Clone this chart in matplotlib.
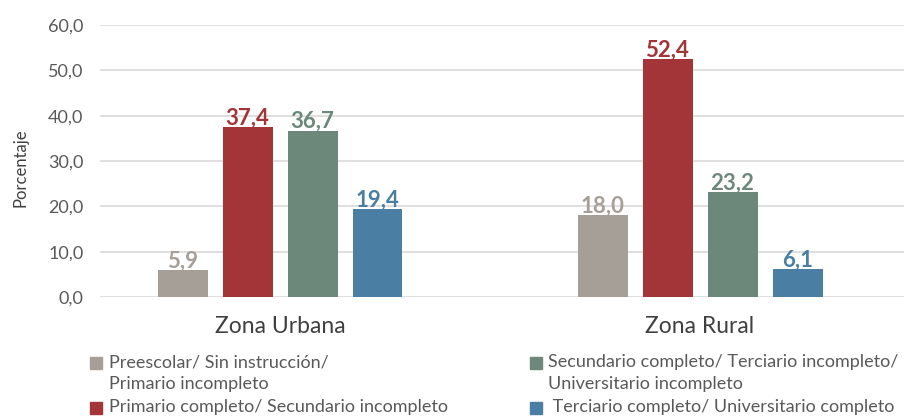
import numpy as np
import matplotlib.pyplot as plt
from matplotlib.patches import Rectangle

plt.rcParams['font.family'] = ['Lato', 'DejaVu Sans']

# Datos
zonas = ['Zona Urbana', 'Zona Rural']
niveles = ['Preescolar/ Sin instrucción/\nPrimario incompleto',
           'Primario completo/ Secundario incompleto',
           'Secundario completo/ Terciario incompleto/\nUniversitario incompleto',
           ' Terciario completo/ Universitario completo']
valores = [[5.9, 18.0],
           [37.4, 52.4],
           [36.7, 23.2],
           [19.4, 6.1]]
colores = ['#A59F98', '#A33438', '#6B887B', '#4A7FA3']

fig = plt.figure(figsize=(9.14, 4.16), dpi=100)
ax = fig.add_axes([100 / 914, 119 / 416, 804 / 914, 272 / 416])

x = np.arange(len(zonas))
paso = 65 / 420
ancho = 50 / 420
for i, (vals, col) in enumerate(zip(valores, colores)):
    pos = x + (i - 1.5) * paso
    ax.bar(pos, vals, width=ancho, color=col, zorder=3)
    for p, v in zip(pos, vals):
        ax.text(p, v + 0.55, f'{v:.1f}'.replace('.', ','), ha='center', va='baseline',
                fontsize=16, fontweight='bold', color=col, zorder=4)

ax.set_xlim(-180 / 420, 624 / 420)
ax.set_ylim(0, 60)
ax.set_yticks(np.arange(0, 61, 10))
ax.set_yticklabels([f'{t:.1f}'.replace('.', ',') for t in np.arange(0, 61, 10)])
ax.set_xticks(x)
ax.set_xticklabels(zonas, fontsize=16.5, color='#404040')
ax.tick_params(axis='y', length=0, labelsize=13, labelcolor='#595959', pad=12)
ax.tick_params(axis='x', length=0, pad=14)
ax.grid(axis='y', color='#D9D9D9', linewidth=1.2, zorder=0)
for s in ax.spines.values():
    s.set_visible(False)

fig.text(20 / 914, 1 - 168 / 416, 'Porcentaje', rotation=90, ha='center', va='center',
         fontsize=12, color='#404040')

# Leyenda manual
ley = [(90, 109, 367, 0), (90, 109, 412, 1), (530, 548, 367, 2), (530, 548, 412, 3)]
for sx, tx, ly, i in ley:
    fig.patches.append(Rectangle((sx / 914, 1 - (ly + 2) / 416), 12 / 914, 12 / 416,
                                 transform=fig.transFigure, color=colores[i]))
    for k, linea in enumerate(niveles[i].split('\n')):
        fig.text(tx / 914, 1 - (ly + 22 * k) / 416, linea, ha='left', va='baseline',
                 fontsize=13, color='#595959')

fig.savefig('out.png', dpi=100)
